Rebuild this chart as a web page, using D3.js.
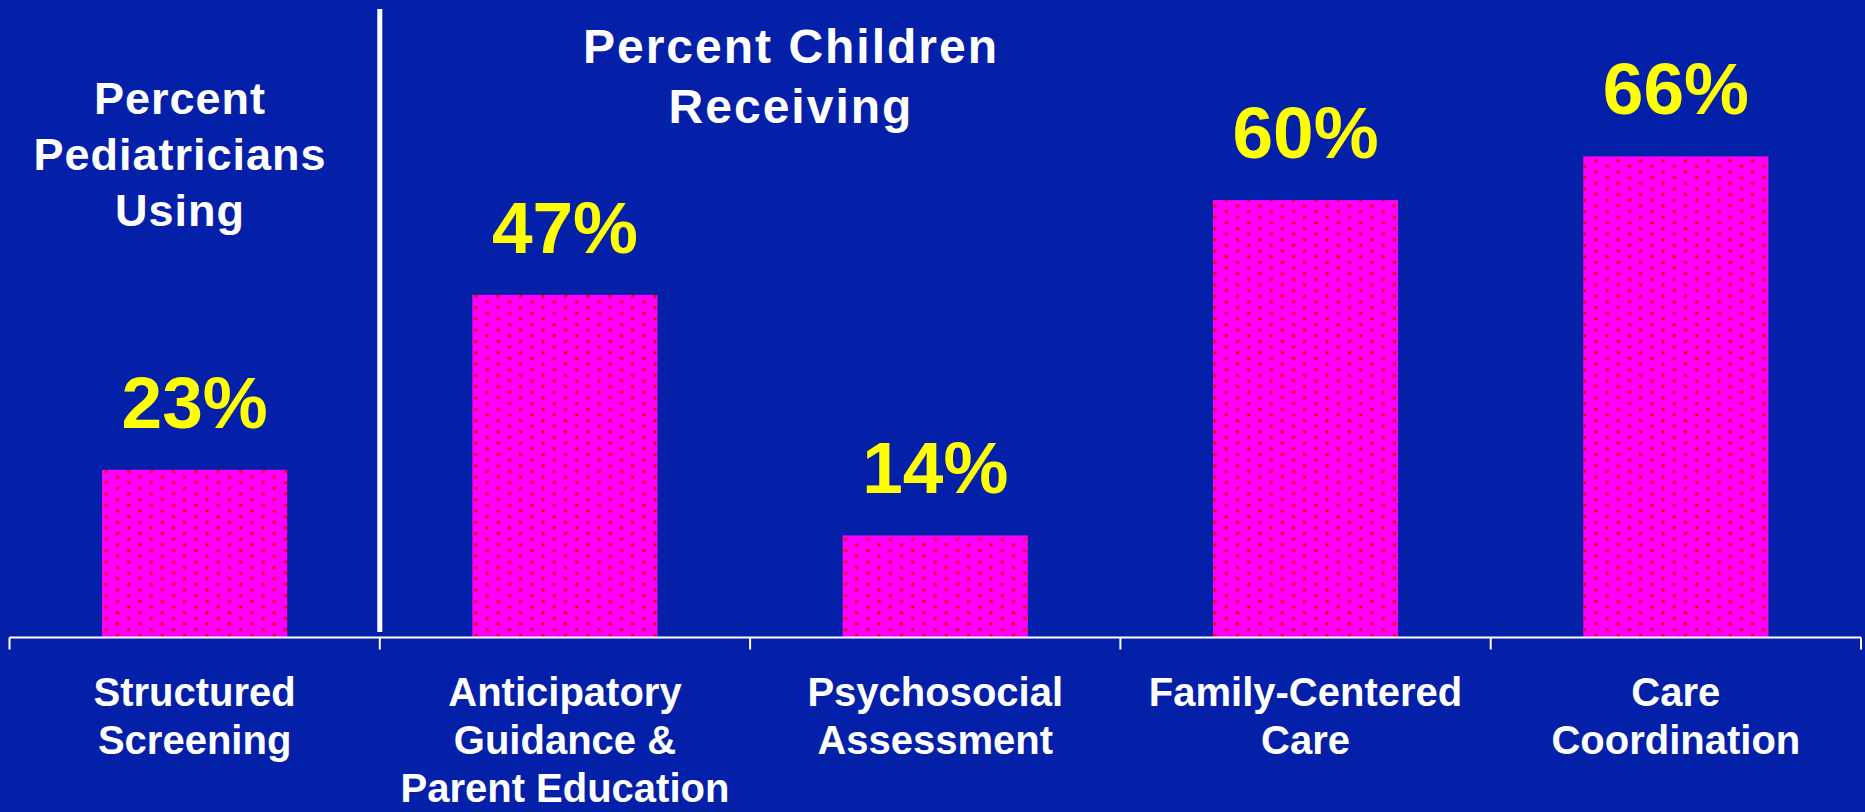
<!DOCTYPE html>
<html>
<head>
<meta charset="utf-8">
<script src="https://cdn.jsdelivr.net/npm/d3@7"></script>
<style>
  html, body { margin: 0; padding: 0; background: #0420a8; overflow: hidden; }
  svg { display: block; }
  text { font-family: "Liberation Sans", Arial, sans-serif; font-weight: bold; }
</style>
</head>
<body>
<script>
'use strict';

const categories = ['Structured Screening', 'Anticipatory Guidance', 'Psychosocial Assessment',
  'Family-Centered Care', 'Care Coordination'];
const categoryLines = [
  ['Structured', 'Screening'],
  ['Anticipatory', 'Guidance &', 'Parent Education'],
  ['Psychosocial', 'Assessment'],
  ['Family-Centered', 'Care'],
  ['Care', 'Coordination']
];
const values = [23, 47, 14, 60, 66];
const titleLeft = ['Percent', 'Pediatricians', 'Using'];
const titleRight = ['Percent Children', 'Receiving'];

const WIDTH = 1865;
const HEIGHT = 812;
const AXIS_Y = 637.5;
const PX_PER_PCT = 7.29;

let svg = d3.select('body').append('svg')
  .attr('width', WIDTH)
  .attr('height', HEIGHT);

svg.append('rect')
  .attr('width', WIDTH)
  .attr('height', HEIGHT)
  .attr('fill', '#0420a8');

// dotted fill used by the bars
let pattern = svg.append('defs').append('pattern')
  .attr('id', 'dots')
  .attr('patternUnits', 'userSpaceOnUse')
  .attr('width', 22.4)
  .attr('height', 11.3);
pattern.append('rect')
  .attr('width', 22.4)
  .attr('height', 11.3)
  .attr('fill', '#ff00ff');
[[4, 1], [15.2, 6.65]].forEach(function(p) {
  pattern.append('rect')
    .attr('x', p[0])
    .attr('y', p[1])
    .attr('width', 3)
    .attr('height', 3)
    .attr('fill', '#ff0000');
});

let x = d3.scaleBand()
  .domain(categories)
  .range([9.5, 1861])
  .paddingInner(0.5)
  .paddingOuter(0.25);

let y = d3.scaleLinear()
  .domain([0, 80])
  .range([AXIS_Y, AXIS_Y - 80 * PX_PER_PCT]);

let data = categories.map(function(c, i) {
  return { cat: c, value: values[i], lines: categoryLines[i] };
});

svg.append('g')
  .selectAll('rect')
  .data(data)
  .enter().append('rect')
    .attr('x', function(d) { return x(d.cat); })
    .attr('y', function(d) { return y(d.value); })
    .attr('width', x.bandwidth())
    .attr('height', function(d) { return y(0) - y(d.value); })
    .attr('fill', 'url(#dots)');

// value labels
svg.append('g')
  .selectAll('text')
  .data(data)
  .enter().append('text')
    .attr('x', function(d) { return x(d.cat) + x.bandwidth() / 2; })
    .attr('y', function(d) { return y(d.value) - 42; })
    .attr('text-anchor', 'middle')
    .attr('font-size', 73)
    .attr('fill', '#ffff00')
    .text(function(d) { return d.value + '%'; });

// axis line with ticks on the band edges
let edges = categories.map(function(c) { return x(c) - x.step() * x.paddingInner() / 2; });
edges.push(x.range()[1]);

let axis = svg.append('g').attr('stroke', '#ffffff').attr('stroke-width', 2);
axis.append('line')
  .attr('x1', edges[0])
  .attr('x2', edges[edges.length - 1])
  .attr('y1', AXIS_Y)
  .attr('y2', AXIS_Y);
axis.selectAll('.tick')
  .data(edges)
  .enter().append('line')
    .attr('class', 'tick')
    .attr('x1', function(d) { return d; })
    .attr('x2', function(d) { return d; })
    .attr('y1', AXIS_Y)
    .attr('y2', AXIS_Y + 12);

// category labels
let catLabels = svg.append('g')
  .selectAll('text')
  .data(data)
  .enter().append('text')
    .attr('text-anchor', 'middle')
    .attr('font-size', 40)
    .attr('fill', '#ffffff');
catLabels.selectAll('tspan')
  .data(function(d) {
    return d.lines.map(function(l) { return { text: l, cx: x(d.cat) + x.bandwidth() / 2 }; });
  })
  .enter().append('tspan')
    .attr('x', function(d) { return d.cx; })
    .attr('y', function(d, i) { return 706 + i * 48; })
    .text(function(d) { return d.text; });

// divider between the two groups
svg.append('line')
  .attr('x1', edges[1])
  .attr('x2', edges[1])
  .attr('y1', 9)
  .attr('y2', 632)
  .attr('stroke', '#ffffff')
  .attr('stroke-width', 5);

// group titles
svg.append('text')
  .attr('text-anchor', 'middle')
  .attr('font-size', 45)
  .attr('letter-spacing', 1)
  .attr('fill', '#ffffff')
  .selectAll('tspan')
  .data(titleLeft)
  .enter().append('tspan')
    .attr('x', 180)
    .attr('y', function(d, i) { return 114 + i * 56; })
    .text(function(d) { return d; });

svg.append('text')
  .attr('text-anchor', 'middle')
  .attr('font-size', 48)
  .attr('letter-spacing', 2)
  .attr('fill', '#ffffff')
  .selectAll('tspan')
  .data(titleRight)
  .enter().append('tspan')
    .attr('x', 791)
    .attr('y', function(d, i) { return 63 + i * 60; })
    .text(function(d) { return d; });
</script>
</body>
</html>
